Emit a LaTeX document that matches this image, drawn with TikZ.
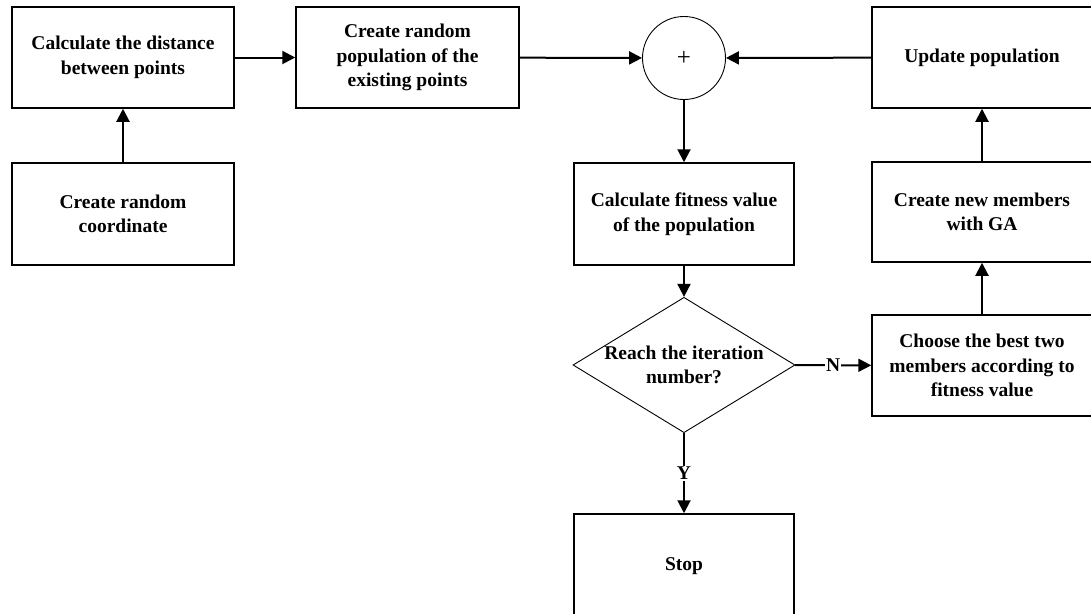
\documentclass[tikz,border=0pt]{standalone}
\usepackage{fontspec}
\setmainfont{Liberation Serif}
\usepackage{tikz}
\usetikzlibrary{
    shapes.geometric, 
    arrows.meta, positioning, calc
}

\tikzset{
    procbox/.style={draw, line width=1.5pt, rectangle, align=center,
        font=\fontsize{19.5}{24.5}\selectfont\bfseries, inner sep=0pt},
    decbox/.style={draw, line width=0.9pt, diamond, aspect=1.64, align=center,
        font=\fontsize{19.5}{24.5}\selectfont\bfseries, inner sep=0pt,
        minimum width=220pt, minimum height=134pt},
    sumcirc/.style={draw, line width=0.9pt, circle, minimum size=83pt,
        inner sep=0pt, font=\fontsize{25}{28}\selectfont},
    flow/.style={line width=2pt, -{Triangle[length=13pt, width=13pt]}},
    yesno/.style={fill=white, inner sep=1pt, font=\fontsize{19.5}{22}\selectfont\bfseries}
}

\begin{document}
\begin{tikzpicture}[x=1pt, y=-1pt]
    \useasboundingbox (0, 0) rectangle (1091, 613);

    % --- Left column ---
    \node[procbox, minimum width=222pt, minimum height=101pt] (dist) at (123, 57.5)
        {Calculate the distance\\between points};
    \node[procbox, minimum width=222pt, minimum height=102pt] (coord) at (123, 214)
        {Create random\\coordinate};

    % --- Initial population ---
    \node[procbox, minimum width=223pt, minimum height=101pt] (pop) at (407.5, 57.5)
        {Create random\\population of the\\existing points};

    % --- Middle column ---
    \node[sumcirc] (sum) at (684, 58) {+};
    \node[procbox, minimum width=220pt, minimum height=102pt] (fit) at (684, 214)
        {Calculate fitness value\\of the population};
    \node[decbox] (dec) at (684, 365) {Reach the iteration\\number?};
    \node[procbox, minimum width=220pt, minimum height=104pt] (stop) at (684, 566)
        {Stop};

    % --- Right column (GA loop) ---
    \node[procbox, minimum width=220pt, minimum height=101pt] (update) at (982, 57.5)
        {Update population};
    \node[procbox, minimum width=220pt, minimum height=100pt] (newm) at (982, 212)
        {Create new members\\with GA};
    \node[procbox, minimum width=220pt, minimum height=101pt] (best) at (982, 365.5)
        {Choose the best two\\members according to\\fitness value};

    % Panah
    \draw[flow] (coord) -- (dist);
    \draw[flow] (dist) -- (pop);
    \draw[flow] (pop) -- (sum);
    \draw[flow] (update) -- (sum);
    \draw[flow] (sum) -- (fit);
    \draw[flow] (fit) -- (dec);
    \draw[flow] (dec) -- node[yesno] {N} (best);
    \draw[flow] (dec) -- node[yesno] {Y} (stop);
    \draw[flow] (best) -- (newm);
    \draw[flow] (newm) -- (update);

\end{tikzpicture}
\end{document}
